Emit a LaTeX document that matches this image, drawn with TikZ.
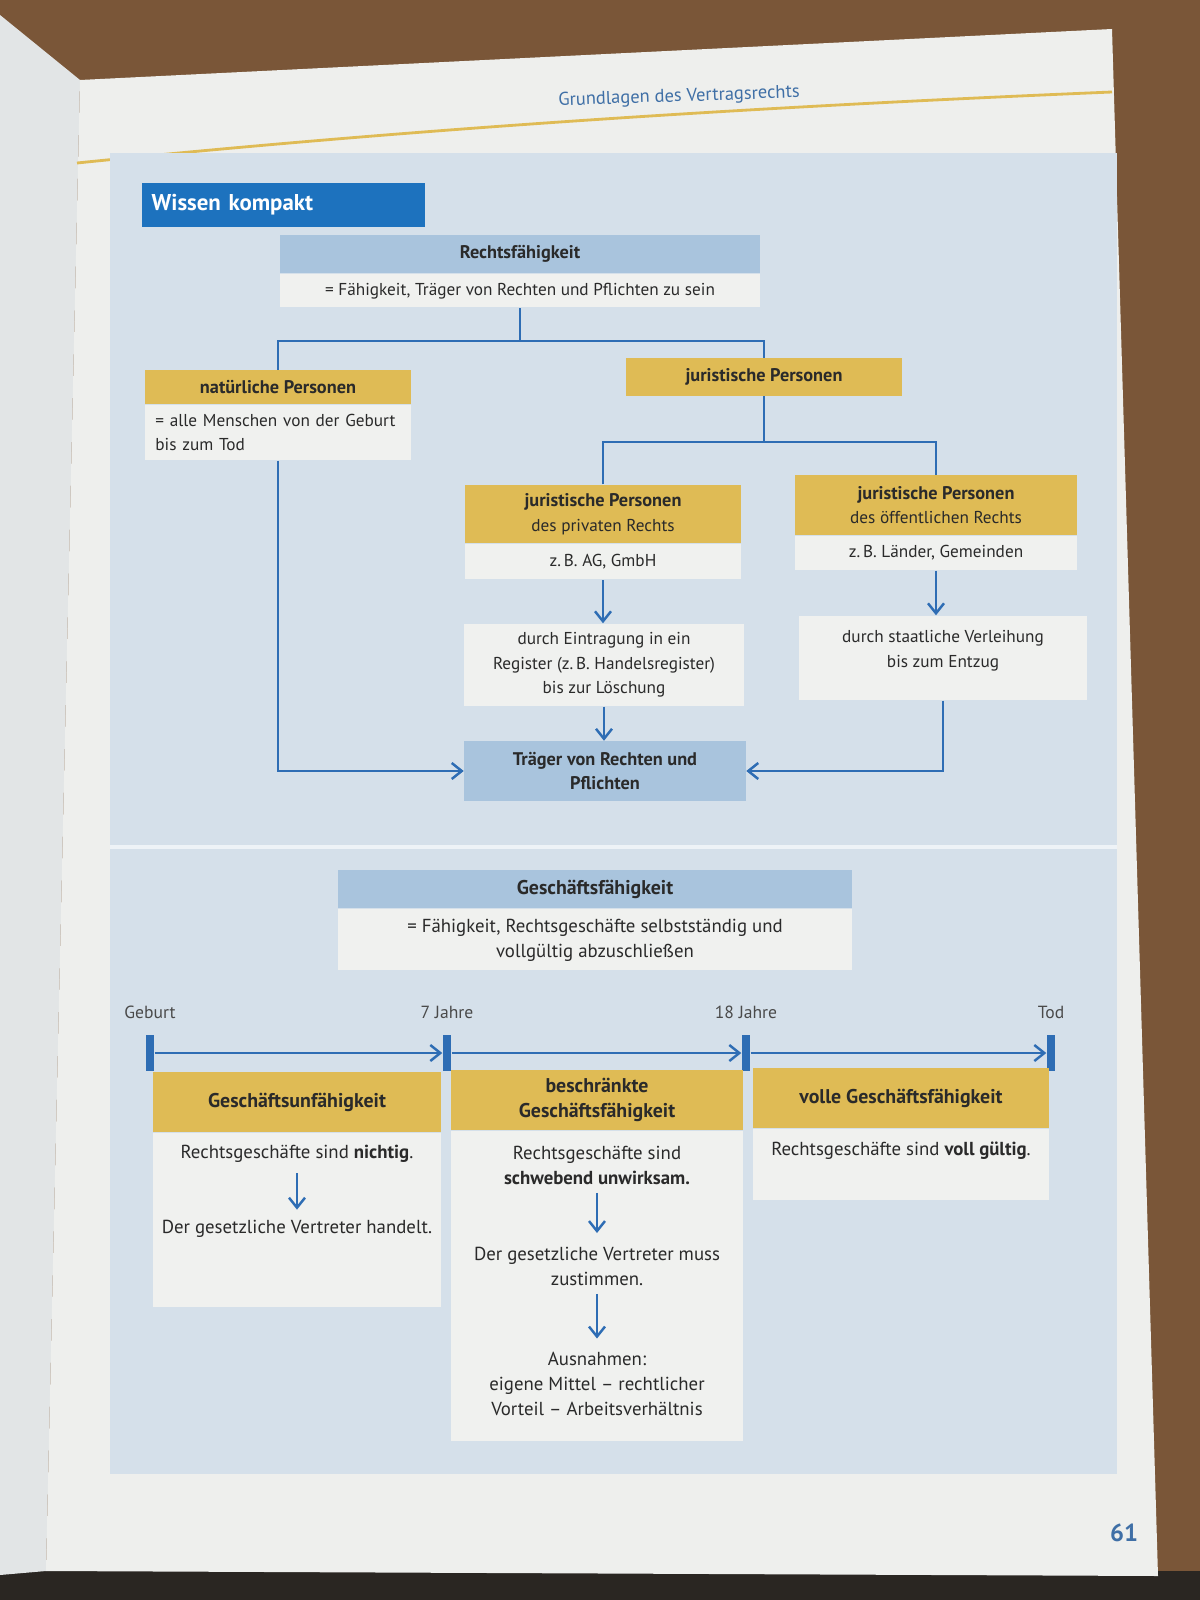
\documentclass[tikz,border=0pt]{standalone}
\usepackage{fontspec}
\setmainfont{PT Sans}
\usepackage{tikz}
\usetikzlibrary{arrows.meta, positioning, calc}
\definecolor{deskbrown}{HTML}{7A5638}
\definecolor{deskdark}{HTML}{2A2622}
\definecolor{pagewhite}{HTML}{EEEFED}
\definecolor{leftpage}{HTML}{E2E5E6}
\definecolor{panelblue}{HTML}{D5E0EA}
\definecolor{headblue}{HTML}{A9C4DD}
\definecolor{headgold}{HTML}{DFBB55}
\definecolor{bodywhite}{HTML}{F0F1EF}
\definecolor{lineblue}{HTML}{2E6DB4}
\definecolor{kompaktblue}{HTML}{1D72BE}
\definecolor{pageblue}{HTML}{3F6FA6}
\definecolor{inkdark}{HTML}{2A2A2A}
\newcommand{\boxfont}{\fontsize{4.9}{7}\selectfont}
\newcommand{\boldfont}{\fontsize{5.2}{7}\selectfont\bfseries}
\newcommand{\lowfont}{\fontsize{5.35}{7.1}\selectfont}
\newcommand{\lowbold}{\fontsize{5.65}{7.3}\selectfont\bfseries}

\begin{document}
\begin{tikzpicture}[
    x=0.01cm, y=-0.01cm,
    node distance=0pt,
    font=\boxfont,
    every node/.style={align=center, inner sep=0pt, text=inkdark},
    hblue/.style={fill=headblue, font=\boldfont},
    hgold/.style={fill=headgold, font=\boldfont},
    body/.style={fill=bodywhite},
    low/.style={font=\lowfont},
    tlabel/.style={text=inkdark!85, font=\fontsize{5}{7}\selectfont},
    link/.style={draw=lineblue, line width=0.7pt},
    arrow/.style={link, -{Straight Barb[length=1mm, width=1.6mm]}},
    tick/.style={fill=lineblue, minimum width=0.8mm, minimum height=3.6mm},
]
\useasboundingbox (0,0) rectangle (1200,1600);

% --- Page, desk and panel
\fill[deskbrown] (0,0) rectangle (1200,1600);
\fill[deskdark] (0,1571) rectangle (1200,1600);
\fill[leftpage] (0,15) -- (80,80) -- (46,1571) -- (0,1575) -- cycle;
\fill[pagewhite] (80,80) -- (1112,29) -- (1158,1576) -- (46,1571) -- cycle;
\draw[headgold, line width=0.8pt] (77,163) .. controls (450,125) and (800,105) .. (1112,92);
\node[font=\fontsize{5.25}{7}\selectfont, text=pageblue, rotate=2] (running) at (679,97) {Grundlagen des Vertragsrechts};
\fill[panelblue] (110,153) rectangle (1117,1474);
\draw[white!60!panelblue, line width=1.2pt] (110,847) -- (1117,847);
\node[font=\fontsize{7}{8}\selectfont\bfseries, text=pageblue] (pagenum) at (1124,1533) {61};

% --- Heading
\node[fill=kompaktblue, anchor=north west, minimum height=4.4mm, text width=2.63cm,
      inner xsep=1mm, align=left, font=\fontsize{6.5}{8}\selectfont\bfseries, text=white]
    (kompakt) at (141,182) {Wissen kompakt};

% --- Rechtsfaehigkeit
\node[hblue, minimum width=4.79cm, minimum height=3.8mm] (rf) at (520,254) {Rechtsfähigkeit};
\node[body, minimum width=4.79cm, minimum height=3.3mm, below=of rf] (rfbody)
    {= Fähigkeit, Träger von Rechten und Pflichten zu sein};

\node[hgold, minimum width=2.65cm, minimum height=3.3mm] (nat) at (278,387) {natürliche Personen};
\node[body, below=of nat, text width=2.45cm, inner xsep=1mm, minimum height=5.5mm, align=left] (natbody)
    {= alle Menschen von der Geburt\\bis zum Tod};

\node[hgold, minimum width=2.75cm, minimum height=3.7mm] (jur) at (764,377) {juristische Personen};

\node[hgold, minimum width=2.76cm, minimum height=5.8mm] (priv) at (603,514)
    {juristische Personen\\\boxfont\mdseries des privaten Rechts};
\node[body, minimum width=2.76cm, minimum height=3.5mm, below=of priv] (privbody) {z.\,B. AG, GmbH};

\node[hgold, minimum width=2.81cm, minimum height=5.9mm] (oeff) at (936,505)
    {juristische Personen\\\boxfont\mdseries des öffentlichen Rechts};
\node[body, minimum width=2.81cm, minimum height=3.4mm, below=of oeff] (oeffbody) {z.\,B. Länder, Gemeinden};

\node[body, minimum width=2.79cm, minimum height=8.2mm] (eintr) at (604,665)
    {durch Eintragung in ein\\Register (z.\,B. Handelsregister)\\bis zur Löschung};
\node[body, minimum width=2.87cm, minimum height=8.4mm] (staat) at (943,658)
    {durch staatliche Verleihung\\bis zum Entzug\\[-0.7mm]};

\node[hblue, minimum width=2.81cm, minimum height=5.9mm] (traeger) at (605,771)
    {Träger von Rechten und\\Pflichten};

% --- Connectors
\draw[link] (rfbody.south) -- ++(0,33) coordinate (rfsplit);
\draw[link] (nat.north) |- (rfsplit) -| (jur.north);
\draw[link] (jur.south) -- ++(0,46) coordinate (jursplit);
\draw[link] (priv.north) |- (jursplit) -| (oeff.north);
\draw[arrow] (privbody.south) -- (privbody.south |- eintr.north);
\draw[arrow] (oeffbody.south) -- (oeffbody.south |- staat.north);
\draw[arrow] (eintr.south) -- (eintr.south |- traeger.north);
\draw[arrow] (natbody.south) |- (traeger.west);
\draw[arrow] (staat.south) |- (traeger.east);

% --- Geschaeftsfaehigkeit
\node[hblue, font=\lowbold, minimum width=5.13cm, minimum height=3.8mm] (gf) at (595,889) {Geschäftsfähigkeit};
\node[body, low, minimum width=5.13cm, minimum height=6.1mm, below=of gf] (gfbody)
    {= Fähigkeit, Rechtsgeschäfte selbstständig und\\vollgültig abzuschließen};

% --- Timeline
\node[tick] (t0) at (150,1053) {};
\node[tick] (t1) at (447,1053) {};
\node[tick] (t2) at (746,1053) {};
\node[tick] (t3) at (1051,1053) {};
\node[tlabel, above=1.5mm of t0] (geburt) {Geburt};
\node[tlabel, above=1.5mm of t1] (sieben) {7 Jahre};
\node[tlabel, above=1.5mm of t2] (achtzehn) {18 Jahre};
\node[tlabel, above=1.5mm of t3] (tod) {Tod};
\draw[arrow] (t0.east) -- (t1.west);
\draw[arrow] (t1.east) -- (t2.west);
\draw[arrow] (t2.east) -- (t3.west);

% --- Stages
\node[hgold, font=\lowbold, minimum width=2.88cm, minimum height=5.9mm] (gu) at (297,1102) {Geschäftsunfähigkeit};
\node[body, minimum width=2.88cm, minimum height=17.4mm, below=of gu] (gubody) {};
\node[hgold, font=\lowbold, minimum width=2.92cm, minimum height=5.9mm] (bg) at (597,1100) {beschränkte\\Geschäftsfähigkeit};
\node[body, minimum width=2.92cm, minimum height=31mm, below=of bg] (bgbody) {};
\node[hgold, font=\lowbold, minimum width=2.96cm, minimum height=5.9mm] (vg) at (901,1098) {volle Geschäftsfähigkeit};
\node[body, minimum width=2.96cm, minimum height=7.1mm, below=of vg] (vgbody) {};

\node[low] (gu1) at (297,1154) {Rechtsgeschäfte sind \textbf{nichtig}.};
\node[low] (gu2) at (297,1229) {Der gesetzliche Vertreter handelt.};
\node[low] (bg1) at (597,1165) {Rechtsgeschäfte sind\\\textbf{schwebend unwirksam.}};
\node[low] (bg2) at (597,1266) {Der gesetzliche Vertreter muss\\zustimmen.};
\node[low] (bg3) at (597,1384) {Ausnahmen:\\eigene Mittel – rechtlicher\\Vorteil – Arbeitsverhältnis};
\node[low] (vg1) at (901,1151) {Rechtsgeschäfte sind \textbf{voll gültig}.};

\draw[arrow, shorten <=1mm, shorten >=1mm] (gu1) -- (gu2);
\draw[arrow, shorten <=0.8mm, shorten >=1.3mm] (bg1) -- (bg2);
\draw[arrow, shorten <=0.8mm, shorten >=1.3mm] (bg2) -- (bg3);

\end{tikzpicture}
\end{document}
